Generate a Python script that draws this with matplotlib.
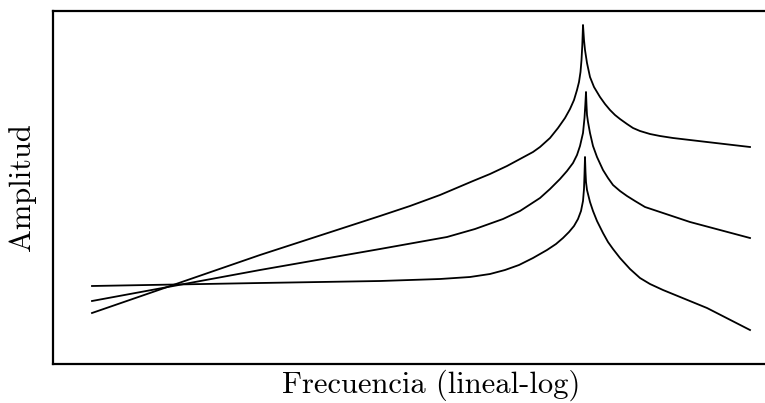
import matplotlib
matplotlib.use("Agg")
import matplotlib.pyplot as plt

# Resonance curves, frequency on a lineal-log axis (arbitrary units)
freq_a = [39, 207, 327, 357, 387, 420, 437, 454, 467, 480, 487, 497, 505,
          512, 517, 521, 524, 526, 527.5, 528.5, 529.3, 530,
          531, 532, 534, 537, 541, 547, 552, 557, 562, 567, 574, 580, 587,
          597, 607, 620, 654, 697]
amp_a = [51, 109, 148, 158, 169, 183, 190, 198, 205, 212, 217, 226, 236,
         246, 255, 264, 274, 282, 292, 304, 319, 339,
         324, 314, 301, 287, 277, 267, 260, 254, 249, 245, 240, 236, 233,
         230, 228, 226, 222, 217]

freq_b = [39, 207, 327, 394, 422, 450, 467, 487, 497, 507, 514, 520, 524,
          527, 530, 531.5, 532.3, 533,
          533.5, 534, 535, 537, 540, 544, 550, 555, 560, 567, 574, 582, 592,
          604, 637, 697]
amp_b = [63, 94, 115, 127, 135, 145, 153, 166, 175, 185, 193, 201, 209,
         218, 231, 246, 259, 272,
         259, 249, 242, 231, 218, 207, 194, 186, 179, 173, 168, 163, 157,
         153, 142, 126]

freq_c = [39, 207, 327, 387, 417, 437, 452, 466, 480, 494, 503, 510, 516,
          521, 525, 528, 530, 531, 531.5, 532,
          532.5, 533, 534, 537, 540, 544, 550, 555, 560, 567, 577, 587, 597,
          610, 654, 697]
amp_c = [78, 81, 83, 85, 87, 90, 94, 99, 106, 114, 120, 126, 132,
         138, 145, 153, 163, 175, 190, 207,
         192, 182, 174, 162, 153, 143, 131, 122, 115, 106, 95, 86, 80,
         74, 56, 34]

plt.rcParams["font.family"] = "serif"
plt.rcParams["font.serif"] = ["cmr10", "DejaVu Serif"]

fig = plt.figure(figsize=(7.65, 4.03), dpi=100)
ax = fig.add_axes([53 / 765, 39 / 403, 712 / 765, 353 / 403])

for f, a in [(freq_a, amp_a), (freq_b, amp_b), (freq_c, amp_c)]:
    ax.plot(f, a, color="black", lw=1.3, solid_joinstyle="round")

ax.set_xlim(0, 712)
ax.set_ylim(0, 353)
ax.set_xticks([])
ax.set_yticks([])
ax.spines["right"].set_visible(False)
for s in ["left", "top", "bottom"]:
    ax.spines[s].set_linewidth(1.6)

ax.set_xlabel("Frecuencia (lineal-log)", fontsize=22)
ax.xaxis.set_label_coords(0.531, -0.015, transform=ax.transAxes)
ax.xaxis.label.set_va("top")
ax.set_ylabel("Amplitud", fontsize=22, labelpad=12)

fig.savefig("out.png", dpi=100)
